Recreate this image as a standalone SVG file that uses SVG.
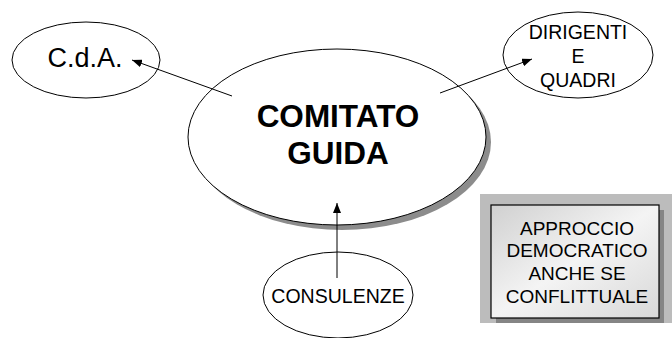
<svg xmlns="http://www.w3.org/2000/svg" width="672" height="338" viewBox="0 0 672 338">
<defs>
<style>
.node{fill:#fff;stroke:#000;stroke-width:1}
.t{font-family:"Liberation Sans",Arial,sans-serif;fill:#000;text-anchor:middle}
.edge{stroke:#000;stroke-width:1;fill:none}
</style>
<marker id="ah" viewBox="0 0 10 8" refX="10" refY="4" markerWidth="10" markerHeight="8" markerUnits="userSpaceOnUse" orient="auto">
<path d="M0,0 L10,4 L0,8 z" fill="#000"/>
</marker>
<linearGradient id="bg" x1="0" y1="0" x2="1" y2="1">
<stop offset="0" stop-color="#d0d0d0"/>
<stop offset="0.5" stop-color="#f4f4f4"/>
<stop offset="1" stop-color="#d8d8d8"/>
</linearGradient>
</defs>
<rect width="672" height="338" fill="#fff"/>
<g id="comitato">
<ellipse cx="342" cy="142" rx="149" ry="88" fill="#8c8c8c"/>
<ellipse class="node" cx="337" cy="137" rx="149" ry="88"/>
<text class="t" x="338" y="127" font-size="31.5" font-weight="bold">COMITATO</text>
<text class="t" x="338" y="164" font-size="31.5" font-weight="bold">GUIDA</text>
</g>
<g id="cda">
<ellipse class="node" cx="86" cy="60" rx="74" ry="38"/>
<text class="t" x="85" y="67" font-size="27">C.d.A.</text>
</g>
<g id="dirigenti">
<ellipse class="node" cx="578" cy="55" rx="75" ry="43"/>
<text class="t" x="578" y="39" font-size="19.5">DIRIGENTI</text>
<text class="t" x="578" y="63" font-size="19.5">E</text>
<text class="t" x="578" y="87" font-size="19.5">QUADRI</text>
</g>
<g id="consulenze">
<ellipse class="node" cx="338" cy="295" rx="75" ry="43"/>
<text class="t" x="338" y="303" font-size="19.5">CONSULENZE</text>
</g>
<g id="approccio">
<rect x="480" y="194" width="192" height="129" fill="#bcbcbc"/>
<rect x="496" y="210" width="168" height="113" fill="#858585"/>
<rect x="491" y="205" width="168" height="113" fill="url(#bg)" stroke="#000" stroke-width="1.2"/>
<text class="t" x="577" y="235" font-size="19">APPROCCIO</text>
<text class="t" x="577" y="257" font-size="19">DEMOCRATICO</text>
<text class="t" x="577" y="280" font-size="19">ANCHE SE</text>
<text class="t" x="577" y="303" font-size="19">CONFLITTUALE</text>
</g>
<g id="connectors">
<line class="edge" x1="232" y1="96" x2="132" y2="60" marker-end="url(#ah)"/>
<line class="edge" x1="440" y1="93" x2="532" y2="59" marker-end="url(#ah)"/>
<line class="edge" x1="337" y1="278" x2="337" y2="203" marker-end="url(#ah)"/>
</g>
</svg>
